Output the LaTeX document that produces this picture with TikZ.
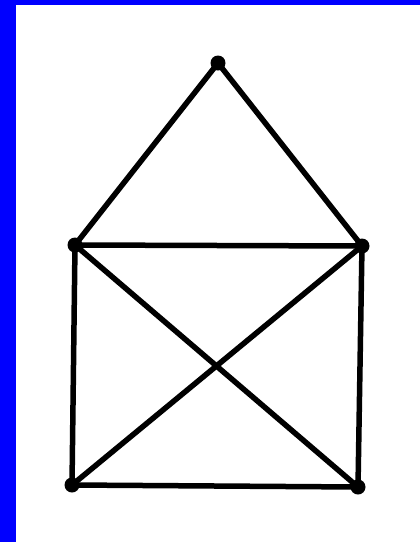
\documentclass[tikz,border=0pt]{standalone}
\definecolor{frameblue}{RGB}{0,0,255}
\tikzset{
  vtx/.style={circle,fill=black,inner sep=0pt,minimum size=15pt},
  edge/.style={line width=5.5pt,black,line cap=round}
}
\begin{document}
\begin{tikzpicture}[x=1pt,y=-1pt]
\useasboundingbox (0,0) rectangle (420,542);
\fill[white] (0,0) rectangle (420,542);
\fill[frameblue] (0,0) rectangle (16,542);
\fill[frameblue] (0,0) rectangle (420,5);
\node[vtx] (t) at (218,63) {};
\node[vtx] (l) at (75,245) {};
\node[vtx] (r) at (362,246) {};
\node[vtx] (bl) at (72,485) {};
\node[vtx] (br) at (358,487) {};
\draw[edge] (t.center) -- (l.center);
\draw[edge] (t.center) -- (r.center);
\draw[edge] (l.center) -- (r.center);
\draw[edge] (l.center) -- (bl.center);
\draw[edge] (r.center) -- (br.center);
\draw[edge] (bl.center) -- (br.center);
\draw[edge] (l.center) -- (br.center);
\draw[edge] (r.center) -- (bl.center);
\end{tikzpicture}
\end{document}
